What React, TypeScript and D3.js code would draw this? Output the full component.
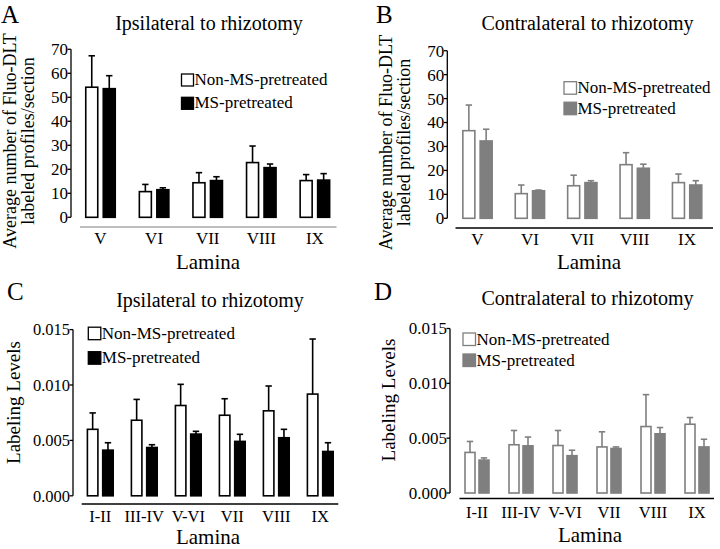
import React from "react";
import * as d3 from "d3";

// ---------- data ----------
const laminaCount = ["V", "VI", "VII", "VIII", "IX"];
const countIpsiNon = [54.2, 10.7, 14.4, 22.8, 15.3];
const countIpsiNonErr = [13.1, 3.0, 4.2, 6.9, 2.5];
const countIpsiMS = [53.6, 11.5, 15.3, 20.7, 15.5];
const countIpsiMSErr = [5.4, 0.8, 1.6, 1.5, 2.7];
const countContraNon = [36.6, 10.3, 13.6, 22.4, 14.9];
const countContraNonErr = [10.7, 3.6, 4.4, 5.0, 3.6];
const countContraMS = [32.3, 11.5, 14.9, 20.9, 13.9];
const countContraMSErr = [4.9, 0.3, 0.8, 1.7, 1.8];
const countTicks = [0, 10, 20, 30, 40, 50, 60, 70];

const laminaLevel = ["I-II", "III-IV", "V-VI", "VII", "VIII", "IX"];
const levelIpsiNon = [0.006, 0.00682, 0.00815, 0.00727, 0.00767, 0.00918];
const levelIpsiNonErr = [0.00148, 0.00188, 0.00191, 0.00149, 0.00224, 0.00497];
const levelIpsiMS = [0.00412, 0.00436, 0.00557, 0.00491, 0.00524, 0.004];
const levelIpsiMSErr = [0.00067, 0.00025, 0.00025, 0.00064, 0.00076, 0.00079];
const levelContraNon = [0.0037, 0.0044, 0.00433, 0.0042, 0.00606, 0.00627];
const levelContraNonErr = [0.001, 0.0013, 0.00137, 0.00138, 0.00291, 0.00061];
const levelContraMS = [0.003, 0.0043, 0.0034, 0.00406, 0.0054, 0.0042];
const levelContraMSErr = [0.0002, 0.0008, 0.0005, 0.00014, 0.00057, 0.0007];
const levelTicks = [0, 0.005, 0.01, 0.015];

const seriesNames = ["Non-MS-pretreated", "MS-pretreated"];

const FONT = "'Liberation Serif', 'Times New Roman', Times, serif";

type Cfg = {
  letter: string; letterX: number; letterY: number;
  title: string; titleX: number; titleY: number;
  yLabel: string[]; yLabelX: number[]; yLabelY: number; yLabelFont: number;
  axisX: number; y0: number; y1: number; yMax: number; ticks: number[];
  fmt: (v: number) => string; tickFont: number;
  bandL: number; bandR: number; barW: number; gap: number;
  xLineL: number; xLineR: number; xLineY: number; xLineColor: string;
  catY: number; catFont: number; laminaX: number; laminaY: number;
  legX: number; legY: number; legDy: number; legSize: number;
  color: string;
  cats: string[]; s1: number[]; e1: number[]; s2: number[]; e2: number[];
};

function Panel({ c }: { c: Cfg }) {
  const y = d3.scaleLinear().domain([0, c.yMax]).range([c.y0, c.y1]);
  const n = c.cats.length;
  const groupW = 2 * c.barW + c.gap;
  const step0 = (c.bandR - c.bandL) / n;
  const p0 = 1 - groupW / step0;
  const x0 = d3.scaleBand<string>().domain(c.cats).range([c.bandL, c.bandR])
    .paddingInner(p0).paddingOuter(p0 / 2);
  const x1 = d3.scaleBand<string>().domain(seriesNames).range([0, groupW])
    .paddingInner(c.gap / (c.barW + c.gap));
  const series = [
    { name: seriesNames[0], vals: c.s1, errs: c.e1, fill: "#ffffff" },
    { name: seriesNames[1], vals: c.s2, errs: c.e2, fill: c.color },
  ];
  const sw = 1.6;
  return (
    <g fontFamily={FONT} fill="#000">
      <text x={c.letterX} y={c.letterY} fontSize={25}>{c.letter}</text>
      <text x={c.titleX} y={c.titleY} fontSize={20} textAnchor="middle">{c.title}</text>
      {c.yLabel.map((t, i) => (
        <text key={i} transform={`translate(${c.yLabelX[i]},${c.yLabelY}) rotate(-90)`}
          fontSize={c.yLabelFont} textAnchor="middle">{t}</text>
      ))}
      {/* y axis */}
      <line x1={c.axisX} x2={c.axisX} y1={y(0)} y2={y(c.yMax)} stroke="#000" strokeWidth={1.3} />
      {c.ticks.map((t) => (
        <g key={t}>
          <line x1={c.axisX - 3.5} x2={c.axisX} y1={y(t)} y2={y(t)} stroke="#000" strokeWidth={1.3} />
          <text x={c.axisX - 3} y={y(t)} dy="0.35em" textAnchor="end" fontSize={c.tickFont}>{c.fmt(t)}</text>
        </g>
      ))}
      {/* x axis line */}
      <line x1={c.xLineL} x2={c.xLineR} y1={c.xLineY} y2={c.xLineY} stroke={c.xLineColor} strokeWidth={1.6} />
      {c.cats.map((cat) => (
        <text key={cat} x={(x0(cat) as number) + x0.bandwidth() / 2} y={c.catY}
          textAnchor="middle" fontSize={c.catFont}>{cat}</text>
      ))}
      <text x={c.laminaX} y={c.laminaY} textAnchor="middle" fontSize={21}>Lamina</text>
      {/* bars */}
      {series.map((s) => (
        <g key={s.name}>
          {c.cats.map((cat, i) => {
            const bx = (x0(cat) as number) + (x1(s.name) as number);
            const cx = bx + c.barW / 2;
            const top = y(s.vals[i]);
            const et = y(s.vals[i] + s.errs[i]);
            return (
              <g key={cat}>
                <line x1={cx} x2={cx} y1={top} y2={et} stroke={c.color} strokeWidth={sw} />
                <line x1={cx - 3.2} x2={cx + 3.2} y1={et} y2={et} stroke={c.color} strokeWidth={sw} />
                <rect x={bx} y={top} width={c.barW} height={y(0) - top}
                  fill={s.fill} stroke={c.color} strokeWidth={sw} />
              </g>
            );
          })}
        </g>
      ))}
      {/* legend */}
      {series.map((s, i) => (
        <g key={s.name}>
          <rect x={c.legX} y={c.legY + i * c.legDy} width={c.legSize} height={c.legSize}
            fill={s.fill} stroke={c.color} strokeWidth={1.3} />
          <text x={c.legX + c.legSize + 1} y={c.legY + i * c.legDy + c.legSize - 1} fontSize={17}>{s.name}</text>
        </g>
      ))}
    </g>
  );
}

const fmtInt = (v: number) => d3.format("d")(v);
const fmt3 = (v: number) => d3.format(".3f")(v);

const panels: Cfg[] = [
  {
    letter: "A", letterX: 1, letterY: 22.5,
    title: "Ipsilateral to rhizotomy", titleX: 209, titleY: 29.5,
    yLabel: ["Average number of Fluo-DLT", "labeled profiles/section"], yLabelX: [15.5, 34], yLabelY: 141, yLabelFont: 18,
    axisX: 71, y0: 217.3, y1: 49.3, yMax: 70, ticks: countTicks, fmt: fmtInt, tickFont: 17,
    bandL: 73.7, bandR: 341.7, barW: 12, gap: 5.5,
    xLineL: 80, xLineR: 336.5, xLineY: 227, xLineColor: "#a8a8a8",
    catY: 244, catFont: 17, laminaX: 208, laminaY: 268.5,
    legX: 181.5, legY: 74, legDy: 23.3, legSize: 12,
    color: "#000000",
    cats: laminaCount, s1: countIpsiNon, e1: countIpsiNonErr, s2: countIpsiMS, e2: countIpsiMSErr,
  },
  {
    letter: "B", letterX: 376, letterY: 22.5,
    title: "Contralateral to rhizotomy", titleX: 587.5, titleY: 30,
    yLabel: ["Average number of Fluo-DLT", "labeled profiles/section"], yLabelX: [391.5, 410], yLabelY: 142.5, yLabelFont: 18,
    axisX: 447.3, y0: 218.3, y1: 50.7, yMax: 70, ticks: countTicks, fmt: fmtInt, tickFont: 17,
    bandL: 451.3, bandR: 713.3, barW: 12, gap: 5.3,
    xLineL: 455.5, xLineR: 713, xLineY: 228, xLineColor: "#000000",
    catY: 244.5, catFont: 17, laminaX: 589, laminaY: 268.5,
    legX: 564, legY: 81.7, legDy: 20.5, legSize: 12.5,
    color: "#7f7f7f",
    cats: laminaCount, s1: countContraNon, e1: countContraNonErr, s2: countContraMS, e2: countContraMSErr,
  },
  {
    letter: "C", letterX: 7, letterY: 300,
    title: "Ipsilateral to rhizotomy", titleX: 210, titleY: 307.3,
    yLabel: ["Labeling Levels"], yLabelX: [19.5], yLabelY: 402.5, yLabelFont: 19,
    axisX: 73, y0: 495.8, y1: 329.6, yMax: 0.015, ticks: levelTicks, fmt: fmt3, tickFont: 16.5,
    bandL: 78.3, bandR: 342.3, barW: 10.5, gap: 4.8,
    xLineL: 81.7, xLineR: 338.3, xLineY: 504, xLineColor: "#000000",
    catY: 521.5, catFont: 16.5, laminaX: 208, laminaY: 544,
    legX: 88.3, legY: 327.2, legDy: 24.5, legSize: 12.5,
    color: "#000000",
    cats: laminaLevel, s1: levelIpsiNon, e1: levelIpsiNonErr, s2: levelIpsiMS, e2: levelIpsiMSErr,
  },
  {
    letter: "D", letterX: 374, letterY: 299.5,
    title: "Contralateral to rhizotomy", titleX: 587.5, titleY: 305,
    yLabel: ["Labeling Levels"], yLabelX: [394.5], yLabelY: 400, yLabelFont: 19,
    axisX: 450, y0: 493, y1: 328.5, yMax: 0.015, ticks: levelTicks, fmt: fmt3, tickFont: 17,
    bandL: 455, bandR: 719, barW: 10, gap: 4,
    xLineL: 459.5, xLineR: 714, xLineY: 498.5, xLineColor: "#000000",
    catY: 518, catFont: 16.5, laminaX: 590, laminaY: 542,
    legX: 463, legY: 333, legDy: 21, legSize: 12.5,
    color: "#7f7f7f",
    cats: laminaLevel, s1: levelContraNon, e1: levelContraNonErr, s2: levelContraMS, e2: levelContraMSErr,
  },
];

export default function App() {
  return (
    <div style={{ position: "absolute", left: 0, top: 0 }}>
      <svg width={720} height={549} viewBox="0 0 720 549" style={{ display: "block", background: "#fff" }}>
        <rect width={720} height={549} fill="#fff" />
        {panels.map((p) => <Panel key={p.letter} c={p} />)}
      </svg>
    </div>
  );
}
